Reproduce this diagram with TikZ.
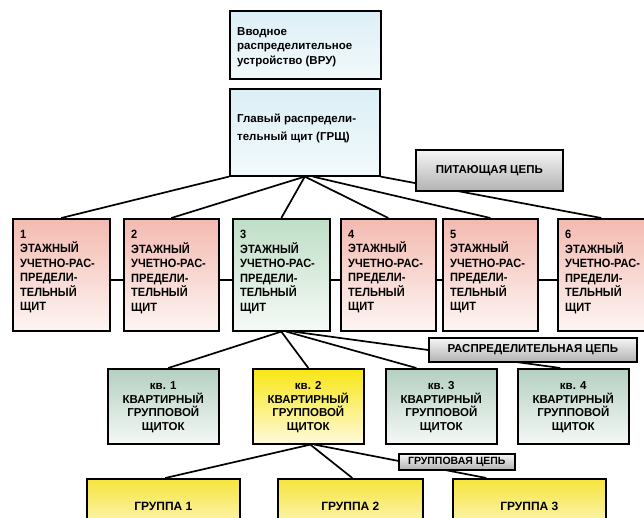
\documentclass[tikz,border=0pt]{standalone}
\usepackage{fontspec}
\setmainfont{Liberation Sans}
\newfontfamily\condfont{Liberation Sans}[FakeStretch=0.92]
\usetikzlibrary{calc,backgrounds}
\definecolor{vruTop}{RGB}{220,239,246}
\definecolor{vruBot}{RGB}{242,249,251}
\definecolor{pinkTop}{RGB}{243,186,176}
\definecolor{pinkBot}{RGB}{253,245,243}
\definecolor{grnTop}{RGB}{190,222,198}
\definecolor{grnBot}{RGB}{246,250,247}
\definecolor{kvTop}{RGB}{180,208,193}
\definecolor{kvBot}{RGB}{245,248,246}
\definecolor{yelTop}{RGB}{248,230,20}
\definecolor{yelBot}{RGB}{255,250,222}
\definecolor{grpTop}{RGB}{246,228,60}
\definecolor{grpBot}{RGB}{255,253,240}
\definecolor{labTop}{RGB}{246,246,246}
\definecolor{labBot}{RGB}{178,178,178}
\tikzset{
  boxb/.style={draw=black, line width=1.6pt, rectangle, inner sep=0pt, anchor=north west},
  vrubox/.style={boxb, top color=vruTop, bottom color=vruBot},
  pinkbox/.style={boxb, top color=pinkTop, bottom color=pinkBot, minimum width=95pt, minimum height=112pt},
  grnbox/.style={boxb, top color=grnTop, bottom color=grnBot, minimum width=97pt, minimum height=112pt},
  kvbox/.style={boxb, top color=kvTop, bottom color=kvBot, minimum width=111pt, minimum height=75pt},
  kvyel/.style={boxb, top color=yelTop, bottom color=yelBot, minimum width=111pt, minimum height=75pt},
  grpbox/.style={boxb, top color=grpTop, bottom color=grpBot, minimum height=70pt},
  labbox/.style={boxb, top color=labTop, bottom color=labBot, align=center,
     font=\fontsize{11.5}{13}\selectfont\bfseries},
  ltext/.style={anchor=north west, inner sep=0pt, align=left, font=\fontsize{11.5}{14.5}\selectfont\bfseries},
  ftext/.style={anchor=north west, inner sep=0pt, align=left, font=\condfont\fontsize{12}{14.5}\selectfont\bfseries},
  ctext/.style={anchor=center, inner sep=0pt, align=center, font=\fontsize{11.5}{13.5}\selectfont\bfseries},
  conn/.style={draw=black, line width=1.7pt},
}
\begin{document}
\begin{tikzpicture}[x=1pt,y=-1pt]
\useasboundingbox (0,0) rectangle (644,518);
\clip (0,0) rectangle (644,518);

% top boxes
\node[vrubox, minimum width=151pt, minimum height=68pt] (vru) at (229,10) {};
\node[ltext] (vrut) at ([xshift=8pt,yshift=-17pt]vru.north west) {Вводное\\распределительное\\устройство (ВРУ)};
\node[vrubox, minimum width=150pt, minimum height=87pt] (grsh) at (229,88) {};
\node[ltext, font=\fontsize{11.5}{18}\selectfont\bfseries] (grsht) at ([xshift=8pt,yshift=-26pt]grsh.north west) {Главый распредели-\\тельный щит (ГРЩ)};

\node[labbox, minimum width=147pt, minimum height=41pt] (pit) at (415,149) {ПИТАЮЩАЯ ЦЕПЬ};

% floor boxes
\node[pinkbox, minimum width=97pt] (f1) at (12,218) {};
\node[pinkbox] (f2) at (123,218) {};
\node[grnbox] (f3) at (232,218) {};
\node[pinkbox] (f4) at (340,218) {};
\node[pinkbox] (f5) at (442,218) {};
\node[pinkbox] (f6) at (557,218) {};
\foreach \i in {1,...,6}{
  \node[ftext] (f\i t) at ([xshift=8pt,yshift=-12pt]f\i.north west) {\i\\ЭТАЖНЫЙ\\УЧЕТНО-РАС-\\ПРЕДЕЛИ-\\ТЕЛЬНЫЙ\\ЩИТ};
}

\node[labbox, minimum width=208pt, minimum height=24pt] (dist) at (428,337) {РАСПРЕДЕЛИТЕЛЬНАЯ ЦЕПЬ};

% apartment boxes
\node[kvbox] (k1) at (107,368) {};
\node[kvyel] (k2) at (252,368) {};
\node[kvbox] (k3) at (385,368) {};
\node[kvbox] (k4) at (517,368) {};
\foreach \i in {1,...,4}{
  \node[ctext] (k\i t) at ([yshift=-1pt]k\i.center) {кв. \i\\КВАРТИРНЫЙ\\ГРУППОВОЙ\\ЩИТОК};
}

\node[labbox, minimum width=116pt, minimum height=16pt, font=\fontsize{10.5}{12}\selectfont\bfseries] (grl) at (398,453) {ГРУППОВАЯ ЦЕПЬ};

% group boxes
\node[grpbox, minimum width=153pt] (g1) at (86,478) {};
\node[grpbox, minimum width=145pt] (g2) at (277,478) {};
\node[grpbox, minimum width=153pt] (g3) at (452,478) {};
\foreach \i in {1,2,3}{
  \node[ctext, font=\fontsize{12}{14}\selectfont\bfseries] (g\i t) at ([yshift=-28pt]g\i.north) {ГРУППА \i};
}

\begin{scope}[on background layer]
  \fill[white] (0,0) rectangle (644,518);
  % feeding circuit
  \draw[conn] (grsh.south west) -- (f1.north);
  \draw[conn] (grsh.south) -- (f2.north);
  \draw[conn] (grsh.south) -- (f3.north);
  \draw[conn] (grsh.south) -- (f4.north);
  \draw[conn] ([xshift=8pt]grsh.south) -- (f5.north);
  \draw[conn] (grsh.south east) -- ([xshift=-4pt]f6.north);
  % floor links
  \draw[conn] ([yshift=-5pt]f1.east) -- ([yshift=-5pt]f2.west);
  \draw[conn] ([yshift=-5pt]f2.east) -- ([yshift=-5pt]f3.west);
  \draw[conn] ([yshift=-5pt]f3.east) -- ([yshift=-5pt]f4.west);
  \draw[conn] ([yshift=-5pt]f4.east) -- ([yshift=-5pt]f5.west);
  \draw[conn] ([yshift=-5pt]f5.east) -- ([yshift=-5pt]f6.west);
  % distribution circuit
  \draw[conn] (f3.south) -- ([xshift=5pt]k1.north);
  \draw[conn] (f3.south) -- (k2.north);
  \draw[conn] ([xshift=5pt]f3.south) -- ([xshift=-25pt]k3.north);
  \draw[conn] ([xshift=12pt]f3.south) -- ([xshift=-13pt]k4.north);
  % group circuit
  \draw[conn] ([xshift=2pt]k2.south) -- ([xshift=2pt]g1.north);
  \draw[conn] ([xshift=2pt]k2.south) -- ([xshift=2pt]g2.north);
  \draw[conn] ([xshift=6pt]k2.south) -- ([xshift=-43pt]g3.north);
\end{scope}
\end{tikzpicture}
\end{document}
